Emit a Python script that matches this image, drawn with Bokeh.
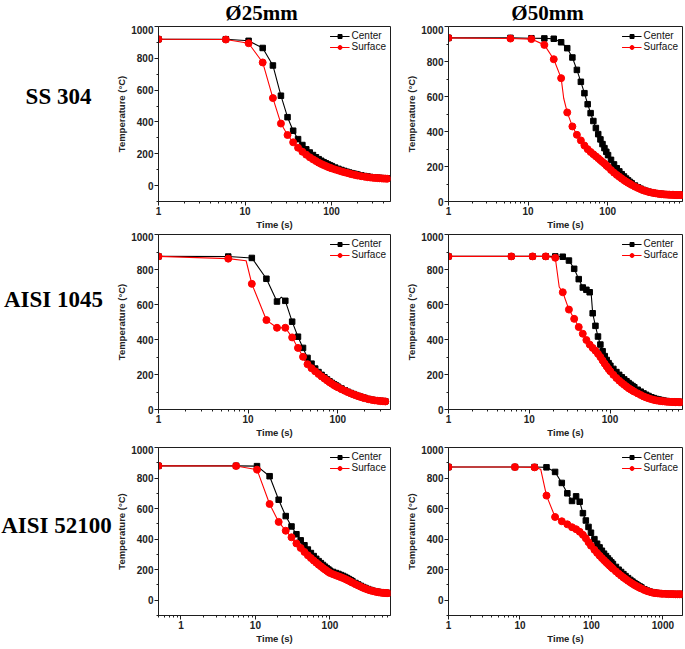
from bokeh.plotting import figure
from bokeh.models import Range1d, FixedTicker, NumeralTickFormatter, Legend, LegendItem
from bokeh.layouts import row, column
from bokeh.embed import file_html
from bokeh.resources import INLINE
from bokeh.core.properties import value

# ---------------- data ----------------
col_titles = ["Ø25mm", "Ø50mm"]
row_titles = ["SS 304", "AISI 1045", "AISI 52100"]
series_names = ["Center", "Surface"]

temp_ticks = [0, 200, 400, 600, 800, 1000]
temp_minor = [-100, 100, 300, 500, 700, 900]
time_ticks = [1, 10, 100, 1000]
time_minor = [0.5, 0.6, 0.7, 0.8, 0.9, 2, 3, 4, 5, 6, 7, 8, 9, 20, 30, 40, 50, 60, 70, 80, 90,
              200, 300, 400, 500, 600, 700, 800, 900, 2000]

# SS 304, 25 mm
time_ss304_25 = [1, 6, 11, 16, 21, 26, 31, 36, 41, 46, 51, 56, 61, 66, 71, 76, 81, 86, 91, 96, 101,
                 110, 120, 130, 140, 150, 160, 170, 180, 190, 200,
                 220, 240, 260, 280, 300, 320, 340, 360, 380, 400, 420, 440]
center_ss304_25 = [920, 920, 910, 865, 755, 565, 430, 345, 292, 255, 228, 208, 192, 178, 166, 156, 147, 140, 133, 127, 122,
                   113, 105, 98, 92, 87, 82, 78, 75, 72, 69,
                   64, 60, 57, 54, 52, 50, 49, 48, 47, 46, 45, 45]
surface_ss304_25 = [920, 918, 895, 774, 550, 390, 318, 272, 238, 213, 194, 178, 165, 154, 144, 136, 129, 123, 117, 112, 108,
                    101, 95, 89, 84, 80, 76, 72, 69, 66, 63,
                    59, 56, 53, 51, 49, 48, 47, 46, 45, 44, 44, 43]
center_knots_ss304_25 = ([], [])
surface_knots_ss304_25 = ([], [])

# SS 304, 50 mm
time_ss304_50 = [1, 6, 11, 16, 21, 26, 31, 36, 41, 46, 51, 56, 61, 66, 71, 76, 81, 86, 91, 96, 101,
                 110, 120, 130, 140, 150, 160, 170, 180, 190, 200,
                 220, 240, 260, 280, 300,
                 325, 350, 375, 400, 425, 450, 475, 500, 525, 550, 575, 600, 625, 650, 675, 700, 725, 750,
                 775, 800, 825, 850]
center_ss304_50 = [935, 935, 933, 932, 930, 910, 876, 823, 752, 684, 619, 556, 505, 460, 420, 385, 355, 328, 305, 284, 265,
                   238, 212, 190, 172, 156, 143, 131, 121, 112, 104,
                   91, 81, 73, 66, 61,
                   56, 52, 49, 47, 45, 44, 43, 42, 41, 41, 40, 40, 39, 39, 39, 38, 38, 38, 38, 38, 38, 38]
surface_ss304_50 = [935, 931, 928, 895, 813, 705, 509, 429, 381, 349, 320, 299, 283, 270, 258, 247, 236, 226, 217, 206, 197,
                    180, 165, 152, 141, 131, 122, 114, 107, 101, 95,
                    85, 77, 70, 64, 60,
                    55, 52, 49, 47, 45, 43, 42, 41, 40, 40, 39, 39, 38, 38, 38, 37, 37, 37, 37, 37, 37, 37]
center_knots_ss304_50 = ([], [])
surface_knots_ss304_50 = ([28], [590])

# AISI 1045, 25 mm
time_1045_25 = [1, 6, 11, 16, 21, 26, 31, 36, 41, 46, 51, 56, 61, 66, 71, 76, 81, 86, 91, 96, 101,
                110, 120, 130, 140, 150, 160, 170, 180, 190, 200,
                220, 240, 260, 280, 300, 320, 340]
center_1045_25 = [875, 874, 866, 747, 617, 621, 502, 416, 352, 295, 262, 234, 214, 198, 184, 172, 161, 152, 144, 137, 130,
                  120, 110, 101, 94, 88, 82, 77, 73, 69, 66,
                  60, 56, 53, 51, 49, 48, 47]
surface_1045_25 = [875, 862, 718, 511, 467, 467, 412, 352, 301, 259, 236, 218, 203, 189, 177, 166, 156, 147, 139, 132, 126,
                   116, 107, 99, 92, 86, 81, 76, 72, 68, 65,
                   59, 55, 52, 50, 48, 47, 46]
center_knots_1045_25 = ([23.5], [642])
surface_knots_1045_25 = ([9.5], [850])

# AISI 1045, 50 mm
time_1045_50 = [1, 6, 11, 16, 21, 26, 31, 36, 41, 46, 51, 56, 61, 66, 71, 76, 81, 86, 91, 96, 101,
                110, 120, 130, 140, 150, 160, 170, 180, 190, 200,
                220, 240, 260, 280, 300,
                325, 350, 375, 400, 425, 450, 475, 500, 525, 550, 575, 600, 625, 650, 675, 700, 725, 750]
center_1045_50 = [875, 875, 875, 875, 875, 873, 851, 804, 745, 697, 684, 670, 550, 478, 417, 371, 333, 305, 283, 265, 250,
                  232, 214, 198, 184, 172, 161, 151, 142, 134, 127,
                  113, 102, 92, 84, 77,
                  70, 65, 60, 57, 54, 51, 49, 48, 46, 45, 45, 44, 44, 43, 43, 43, 42, 42]
surface_1045_50 = [875, 875, 875, 875, 867, 670, 571, 518, 471, 433, 397, 371, 352, 336, 318, 300, 280, 262, 246, 231, 218,
                   198, 180, 165, 152, 141, 131, 122, 115, 108, 102,
                   92, 83, 75, 69, 64,
                   59, 55, 52, 50, 48, 47, 46, 45, 44, 44, 43, 43, 43, 42, 42, 42, 42, 42]
center_knots_1045_50 = ([58.5], [660])
surface_knots_1045_50 = ([23.5], [700])

# AISI 52100, 25 mm
time_52100_25 = [0.5, 5.5, 10.5, 15.5, 20.5, 25.5, 30.5, 35.5, 40.5, 45.5, 50.5, 55.5, 60.5, 65.5, 70.5, 75.5,
                 80.5, 85.5, 90.5, 95.5, 100.5,
                 110, 120, 130, 140, 150, 160, 170, 180, 190, 200,
                 220, 240, 260, 280, 300,
                 325, 350, 375, 400, 425, 450, 475, 500, 525, 550, 575, 600]
center_52100_25 = [880, 880, 878, 812, 658, 551, 483, 432, 392, 360, 332, 309, 289, 271, 256, 243, 231, 220, 210, 201, 193,
                   185, 178, 172, 165, 159, 152, 145, 138, 131, 125,
                   113, 103, 94, 86, 80,
                   73, 67, 62, 59, 56, 54, 52, 50, 49, 48, 48, 47]
surface_52100_25 = [880, 879, 855, 630, 513, 455, 412, 372, 342, 316, 294, 276, 260, 246, 233, 222, 211, 202, 193, 185, 178,
                    170, 163, 157, 151, 145, 139, 133, 127, 121, 115,
                    105, 96, 88, 81, 75,
                    69, 64, 60, 57, 54, 52, 50, 49, 48, 47, 47, 46]
center_knots_52100_25 = ([], [])
surface_knots_52100_25 = ([], [])

# AISI 52100, 50 mm
time_52100_50 = [1, 8.5, 16, 23.5, 31, 38.5, 46, 53.5, 61, 68.5, 76, 83.5, 91, 98.5,
                 110, 120, 130, 140, 150, 160, 170, 180, 190, 200,
                 220, 240, 260, 280, 300,
                 325, 350, 375, 400, 425, 450, 475, 500,
                 550, 600, 650, 700, 750, 800, 850, 900, 950, 1000,
                 1100, 1200, 1300, 1400, 1500, 1600, 1700, 1800]
center_52100_50 = [872, 872, 872, 870, 840, 768, 700, 650, 680, 645, 570, 522, 480, 442,
                   400, 370, 346, 324, 305, 289, 274, 260, 248, 237,
                   218, 200, 185, 171, 158,
                   145, 133, 122, 112, 104, 96, 90, 84,
                   72, 63, 57, 53, 50, 48, 46, 45, 44, 43,
                   42, 41, 41, 40, 40, 40, 40, 40]
surface_52100_50 = [872, 872, 870, 685, 545, 517, 497, 478, 465, 448, 428, 405, 380, 357,
                    330, 310, 292, 276, 262, 249, 237, 226, 216, 206,
                    189, 174, 161, 149, 139,
                    127, 117, 108, 100, 93, 87, 81, 76,
                    67, 60, 55, 51, 48, 46, 45, 44, 43, 42,
                    41, 40, 40, 40, 39, 39, 39, 39]
center_knots_52100_50 = ([], [])
surface_knots_52100_50 = ([19.5], [858])

# axis ranges of each panel
xr_ss304_25, yr_ss304_25 = (1, 480), (-100, 1000)
xr_ss304_50, yr_ss304_50 = (1, 870), (0, 1000)
xr_1045_25, yr_1045_25 = (1, 388), (0, 1000)
xr_1045_50, yr_1045_50 = (1, 790), (0, 1000)
xr_52100_25, yr_52100_25 = (0.5, 650), (-100, 1000)
xr_52100_50, yr_52100_50 = (1, 1880), (-100, 1000)

# ---------------- styling / layout ----------------
SANS = "Liberation Sans"
SERIF = "Liberation Serif"
AX = "#1e1e1e"

LABEL_W = 113
LEFT_W, LEFT_BL, LEFT_BR = 290, 44, 13
RIGHT_W, RIGHT_BL, RIGHT_BR = 280, 44, 1
ROW_SPECS = [(207, 1, 31), (213, 2, 36), (201, 2, 29)]  # height, top, bottom
TITLE_H = 25


def merge(t, v, knots):
    kt, kv = knots
    pts = sorted(zip(list(t) + list(kt), list(v) + list(kv)))
    return [a for a, _ in pts], [b for _, b in pts]


def style_axis(ax):
    ax.axis_line_color = AX
    ax.major_tick_line_color = AX
    ax.minor_tick_line_color = AX
    ax.major_tick_out = 4
    ax.major_tick_in = 0
    ax.minor_tick_out = 2
    ax.minor_tick_in = 0
    ax.major_label_text_font = SANS
    ax.major_label_text_font_style = "bold"
    ax.major_label_text_font_size = "10px"
    ax.major_label_text_color = "#222222"
    ax.major_label_standoff = 1
    ax.axis_label_text_font = SANS
    ax.axis_label_text_font_style = "bold"
    ax.axis_label_text_font_size = "9.5px"
    ax.axis_label_text_color = "#222222"
    ax.axis_label_standoff = 1


def panel(t, cen, sur, cknots, sknots, xr, yr, w, h, bl, br, bt, bb):
    p = figure(width=w, height=h, x_axis_type="log",
               x_range=Range1d(*xr), y_range=Range1d(*yr),
               output_backend="svg", toolbar_location=None,
               min_border_left=bl, min_border_right=br,
               min_border_top=bt, min_border_bottom=bb,
               x_axis_label="Time (s)", y_axis_label="Temperature (°C)")
    p.xgrid.visible = False
    p.ygrid.visible = False
    p.outline_line_color = AX
    p.outline_line_width = 1
    p.outline_line_alpha = 1
    p.background_fill_color = "white"
    p.border_fill_color = "white"
    p.xaxis.ticker = FixedTicker(ticks=time_ticks, minor_ticks=time_minor)
    p.xaxis.formatter = NumeralTickFormatter(format="0")
    p.yaxis.ticker = FixedTicker(ticks=temp_ticks, minor_ticks=temp_minor)
    style_axis(p.xaxis[0])
    style_axis(p.yaxis[0])

    lt, lv = merge(t, cen, cknots)
    c_line = p.line(lt, lv, line_color="black", line_width=1.1)
    c_pts = p.scatter(t, cen, marker="square", size=5.5, fill_color="black", line_color="black")
    lt, lv = merge(t, sur, sknots)
    s_line = p.line(lt, lv, line_color="#ff0000", line_width=1.1)
    s_pts = p.scatter(t, sur, marker="circle", size=7, fill_color="#ff0000", line_color="#ff0000")

    legend = Legend(items=[LegendItem(label=series_names[0], renderers=[c_line, c_pts]),
                           LegendItem(label=series_names[1], renderers=[s_line, s_pts])],
                    location="top_right")
    legend.label_text_font = SANS
    legend.label_text_font_size = "10px"
    legend.label_text_color = "#111111"
    legend.glyph_width = 20
    legend.glyph_height = 10
    legend.label_height = 10
    legend.label_standoff = 2
    legend.spacing = 0
    legend.padding = 1
    legend.margin = 3
    legend.border_line_alpha = 0
    legend.background_fill_alpha = 0
    p.add_layout(legend)
    return p


def blank(w, h):
    f = figure(width=w, height=h, x_range=Range1d(0, w), y_range=Range1d(h, 0),
               output_backend="svg", toolbar_location=None,
               x_axis_location=None, y_axis_location=None, min_border=0)
    f.grid.visible = False
    f.outline_line_color = None
    f.background_fill_color = "white"
    f.border_fill_color = "white"
    return f


panels_data = [
    [(time_ss304_25, center_ss304_25, surface_ss304_25, center_knots_ss304_25, surface_knots_ss304_25, xr_ss304_25, yr_ss304_25),
     (time_ss304_50, center_ss304_50, surface_ss304_50, center_knots_ss304_50, surface_knots_ss304_50, xr_ss304_50, yr_ss304_50)],
    [(time_1045_25, center_1045_25, surface_1045_25, center_knots_1045_25, surface_knots_1045_25, xr_1045_25, yr_1045_25),
     (time_1045_50, center_1045_50, surface_1045_50, center_knots_1045_50, surface_knots_1045_50, xr_1045_50, yr_1045_50)],
    [(time_52100_25, center_52100_25, surface_52100_25, center_knots_52100_25, surface_knots_52100_25, xr_52100_25, yr_52100_25),
     (time_52100_50, center_52100_50, surface_52100_50, center_knots_52100_50, surface_knots_52100_50, xr_52100_50, yr_52100_50)],
]

rows = []
for (h, bt, bb), (left, right) in zip(ROW_SPECS, panels_data):
    pl = panel(*left, LEFT_W, h, LEFT_BL, LEFT_BR, bt, bb)
    pr = panel(*right, RIGHT_W, h, RIGHT_BL, RIGHT_BR, bt, bb)
    rows.append(row(pl, pr))

total_h = sum(s[0] for s in ROW_SPECS)
label_fig = blank(LABEL_W, total_h)
label_fig.text(x=[58, 53, 56], y=[71, 274, 500], text=row_titles,
               text_font=value(SERIF), text_font_style="bold", text_font_size="23px",
               text_align="center", text_baseline="middle", text_color="black")

total_w = LABEL_W + LEFT_W + RIGHT_W
title_fig = blank(total_w, TITLE_H)
title_fig.text(x=[261, 547], y=[12.5, 12.5], text=col_titles,
               text_font=value(SERIF), text_font_style="bold", text_font_size="21px",
               text_align="center", text_baseline="middle", text_color="black")

layout = column(title_fig, row(label_fig, column(*rows)))

open("out.html", "w").write(file_html(layout, INLINE, title="Cooling curves"))
